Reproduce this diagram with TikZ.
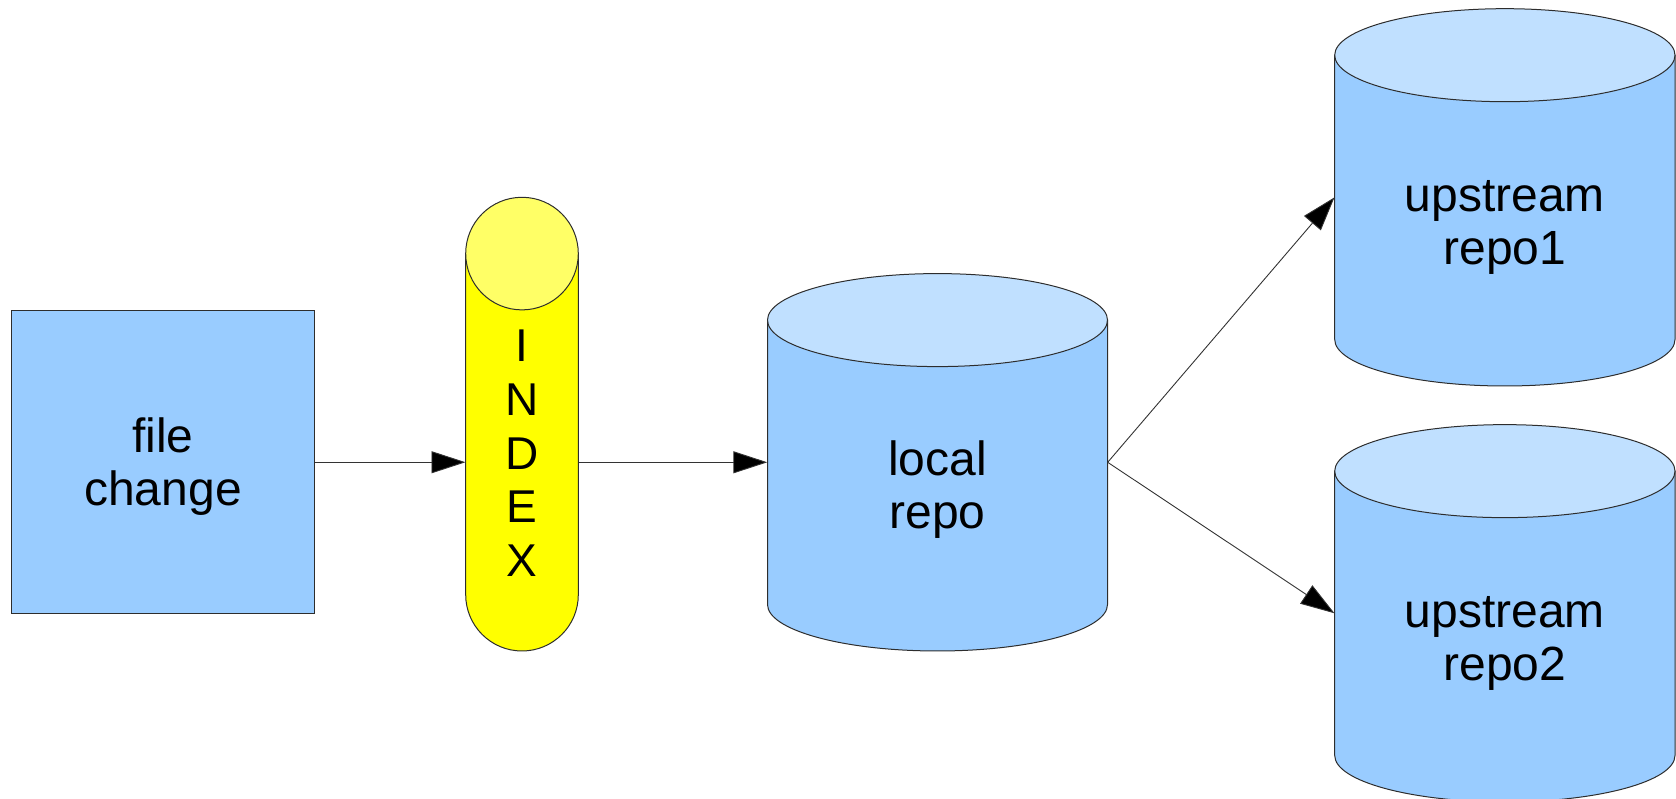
\documentclass[tikz,border=0pt]{standalone}
\usepackage{fontspec}
\setmainfont{Liberation Sans}
\usetikzlibrary{arrows.meta}

\definecolor{bodyblue}{RGB}{153,204,255}
\definecolor{capblue}{RGB}{192,224,255}
\definecolor{bodyyellow}{RGB}{255,255,0}
\definecolor{capyellow}{RGB}{255,255,102}
\definecolor{edgegray}{RGB}{45,45,45}

% drum shape: #1 name, #2 cx, #3 cy, #4 width, #5 height, #6 cap radius, #7 body colour, #8 cap colour
\newcommand\drawdrum[8]{%
  \node[minimum width=#4pt, minimum height=#5pt, inner sep=0pt] (#1) at (#2,#3) {};
  \path[outline, fill=#7] (#2-#4/2, #3+#5/2-#6) -- (#2-#4/2, #3-#5/2+#6)
     arc[start angle=180, end angle=360, x radius=#4/2, y radius=#6]
     -- (#2+#4/2, #3+#5/2-#6) -- cycle;
  \path[outline, fill=#8] (#2, #3+#5/2-#6) ellipse[x radius=#4/2, y radius=#6];
}

\begin{document}
\begin{tikzpicture}[x=1pt, y=1pt,
  outline/.style={draw=edgegray, line width=1pt},
  % captions are placed by the baseline of their last line
  caption/.style={font=\fontsize{48}{53}\selectfont, align=center, inner sep=0pt, anchor=base},
  flow/.style={draw=black!80, line width=0.9pt, -{Triangle[length=34pt, width=22pt, fill=black]}},
]
\useasboundingbox (0,0) rectangle (1676,799);

% working-tree change
\node[outline, fill=bodyblue, minimum width=302.5pt, minimum height=302.5pt, inner sep=0pt] (file) at (163,336.75) {};
\node[caption] (filetext) at (163,293) {file\\change};

% staging area
\drawdrum{index}{522}{374.85}{112.6}{453.7}{56.3}{bodyyellow}{capyellow}
\node[caption, font=\fontsize{46}{53.75}\selectfont] (indextext) at (522,222.3) {I\\N\\D\\E\\X};

% repositories
\drawdrum{local}{937.5}{336.7}{340}{377.4}{46.5}{bodyblue}{capblue}
\node[caption] (localtext) at (937.5,270.7) {local\\repo};

\drawdrum{upone}{1504.85}{601.65}{340.3}{377.3}{46.5}{bodyblue}{capblue}
\node[caption] (uponetext) at (1504.85,534) {upstream\\repo1};

\drawdrum{uptwo}{1504.85}{185.7}{340.3}{377.3}{46.5}{bodyblue}{capblue}
\node[caption] (uptwotext) at (1504.85,118.5) {upstream\\repo2};

% connectors
\draw[flow] (file.east) -- (file.east -| index.west);
\draw[flow] (local.west -| index.east) -- (local.west);
\draw[flow] (local.east) -- (upone.west);
\draw[flow] (local.east) -- (uptwo.west);
\end{tikzpicture}
\end{document}
